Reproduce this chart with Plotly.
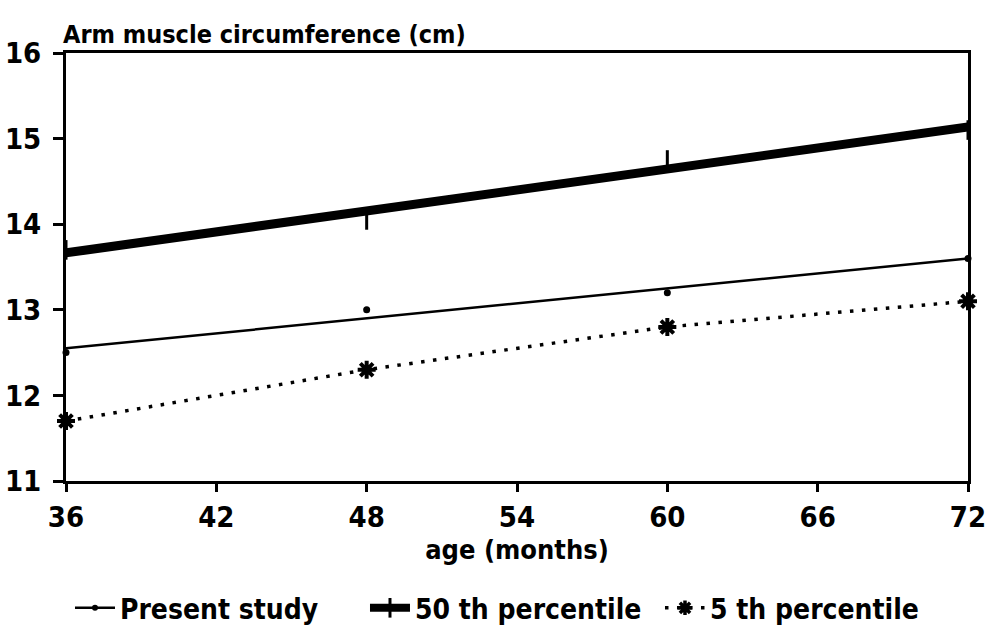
import numpy as np
import plotly.graph_objects as go

# Age in months
ages = [36, 48, 60, 72]

# Arm muscle circumference (cm)
present_study = [12.5, 13.0, 13.2, 13.6]
p50 = [13.7, 14.05, 14.75, 15.1]
p5 = [11.7, 12.3, 12.8, 13.1]

x_ticks = [36, 42, 48, 54, 60, 66, 72]
y_ticks = [11, 12, 13, 14, 15, 16]

FONT = "DejaVu Sans Condensed"
INK = "black"


def fit_line(xs, ys):
    """Least-squares straight line evaluated at the first and last age."""
    slope, intercept = np.polyfit(xs, ys, 1)
    ends = [xs[0], xs[-1]]
    return ends, [slope * e + intercept for e in ends]


fig = go.Figure()

# Present study: fitted trend line with the observed points
lx, ly = fit_line(ages, present_study)
fig.add_trace(go.Scatter(x=lx, y=ly, mode="lines", line=dict(color=INK, width=2.5),
                         showlegend=False, cliponaxis=False))
fig.add_trace(go.Scatter(x=ages, y=present_study, mode="markers",
                         marker=dict(symbol="circle", size=7, color=INK),
                         showlegend=False, cliponaxis=False))

# 50th percentile: heavy trend line with tick markers
lx, ly = fit_line(ages, p50)
fig.add_trace(go.Scatter(x=lx, y=ly, mode="lines", line=dict(color=INK, width=9),
                         showlegend=False, cliponaxis=False))
fig.add_trace(go.Scatter(x=ages, y=p50, mode="markers",
                         marker=dict(symbol="line-ns-open", size=14, color=INK,
                                     line=dict(color=INK, width=3)),
                         showlegend=False, cliponaxis=False))

# 5th percentile: dotted line through asterisk markers
fig.add_trace(go.Scatter(x=ages, y=p5, mode="lines+markers",
                         line=dict(color=INK, width=3.5, dash="3.5px,8.5px"),
                         marker=dict(symbol="asterisk-open", size=15, color=INK,
                                     line=dict(color=INK, width=4)),
                         showlegend=False, cliponaxis=False))

# Legend entries
fig.add_trace(go.Scatter(x=[None], y=[None], mode="lines+markers", name="Present study",
                         line=dict(color=INK, width=2.5),
                         marker=dict(symbol="circle", size=6, color=INK)))
fig.add_trace(go.Scatter(x=[None], y=[None], mode="lines+markers", name="50 th percentile",
                         line=dict(color=INK, width=8),
                         marker=dict(symbol="line-ns-open", size=14, color=INK,
                                     line=dict(color=INK, width=3))))
fig.add_trace(go.Scatter(x=[None], y=[None], mode="lines+markers", name="5 th percentile",
                         line=dict(color=INK, width=3.5, dash="3.5px,8.5px"),
                         marker=dict(symbol="asterisk-open", size=12, color=INK,
                                     line=dict(color=INK, width=3.5))))

axis_common = dict(
    showgrid=False, zeroline=False, showline=True, linecolor=INK, linewidth=3,
    mirror=True, ticks="outside", tickcolor=INK, tickwidth=3,
    tickfont=dict(family=FONT, size=29, color=INK, weight="bold"),
)

fig.update_xaxes(range=[36, 72], tickvals=x_ticks, ticklen=8, ticklabelstandoff=0,
                 title=dict(text="age (months)", standoff=0,
                            font=dict(family=FONT, size=27, color=INK, weight="bold")),
                 **axis_common)
fig.update_yaxes(range=[11, 16], tickvals=y_ticks, ticklen=10, ticklabelstandoff=6,
                 **axis_common)

fig.add_annotation(text="Arm muscle circumference (cm)", xref="paper", yref="paper",
                   x=-0.005, y=1.0, xanchor="left", yanchor="bottom", yshift=2,
                   showarrow=False,
                   font=dict(family=FONT, size=25, color=INK, weight="bold"))

fig.update_layout(
    width=998, height=636,
    margin=dict(l=66, r=30, t=53, b=155, autoexpand=False),
    paper_bgcolor="white", plot_bgcolor="white",
    legend=dict(orientation="h", x=0.495, xanchor="center", y=-0.297, yanchor="middle",
                font=dict(family=FONT, size=28, color=INK, weight="bold"),
                itemwidth=40, entrywidth=240, bgcolor="rgba(0,0,0,0)"),
)

fig.write_html("out.html")
